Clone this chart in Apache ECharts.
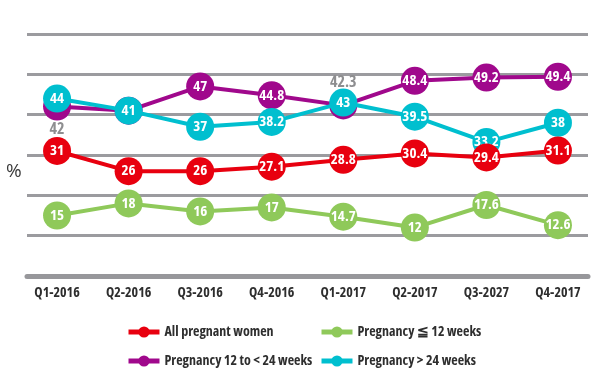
<!DOCTYPE html>
<html><head><meta charset="utf-8">
<script src="https://cdn.jsdelivr.net/npm/echarts@6/dist/echarts.min.js"></script>
<style>html,body{margin:0;padding:0;background:#fff}#c{width:599px;height:377px}</style>
</head><body><div id="c"></div>
<script>
const categories = ['Q1-2016','Q2-2016','Q3-2016','Q4-2016','Q1-2017','Q2-2017','Q3-2027','Q4-2017'];
const allWomen = [31, 26, 26, 27.1, 28.8, 30.4, 29.4, 31.1];
const upTo12 = [15, 18, 16, 17, 14.7, 12, 17.6, 12.6];
const w12to24 = [42, 41, 47, 44.8, 42.3, 48.4, 49.2, 49.4];
const over24 = [44, 41, 37, 38.2, 43, 39.5, 33.2, 38];
const seriesNames = ['All pregnant women','Pregnancy ≦ 12 weeks','Pregnancy 12 to < 24 weeks','Pregnancy > 24 weeks'];
const yTicks = [0, 10, 20, 30, 40, 50, 60];

const FONT = "'Open Sans'";
const STRETCH = 'condensed';
const colors = ['#e8000f','#8fc95a','#a0088c','#00bfcf'];
const outsideLabel = {0:'bottom', 4:'top'};
const catIdx = categories.map((c,i)=>i);

function mkSeries(name, data, color, z, special){
  return {
    name, type:'line', data: data.map((v,i)=>{
      if(special && outsideLabel[i]!==undefined){
        return {value:[i, v], label:{position:outsideLabel[i], color:'#8e8e90', distance:1, fontSize:16}};
      }
      return [i, v];
    }),
    z,
    symbol:'circle', symbolSize:28,
    lineStyle:{color, width:4},
    itemStyle:{color},
    label:{show:true, position:'inside', color:'#fff', fontFamily:FONT, fontStyle:STRETCH, fontWeight:'bold', fontSize:15,
      formatter:p=>String(p.value[1])},
    emphasis:{disabled:true}
  };
}

const chart = echarts.init(document.getElementById('c'));
const legendBase = {itemWidth:31, itemHeight:14, itemGap:6, lineStyle:{width:5}, textStyle:{fontFamily:FONT, fontStyle:STRETCH, fontWeight:'bold', fontSize:14, color:'#2e2e2e'}, selectedMode:false};
chart.setOption({
  animation:false,
  grid:{left:27, right:11, top:34, bottom:101},
  xAxis:{type:'value', min:-0.42, max:catIdx.length-1+0.42,
    axisLine:{onZero:false, lineStyle:{color:'#97979b', width:5}},
    axisTick:{show:false},
    splitLine:{show:false},
    axisLabel:{customValues:catIdx, formatter:v=>categories[Math.round(v)], margin:10, fontFamily:FONT, fontStyle:STRETCH, fontWeight:'bold', fontSize:14, color:'#2e2e2e'}},
  yAxis:{type:'value', min:yTicks[0], max:yTicks[yTicks.length-1], interval:10,
    axisLabel:{show:false}, axisLine:{show:false}, axisTick:{show:false},
    splitLine:{lineStyle:{color:'#9b9b9f', width:3}}},
  graphic:[{type:'text', left:6, top:162, style:{text:'%', fontSize:19, fontFamily:FONT, fill:'#3a3a3a'}}],
  legend:[
    Object.assign({data:[seriesNames[0]], left:121, top:320}, legendBase),
    Object.assign({data:[seriesNames[1]], left:314, top:320}, legendBase),
    Object.assign({data:[seriesNames[2]], left:121, top:349}, legendBase),
    Object.assign({data:[seriesNames[3]], left:314, top:349}, legendBase)
  ],
  series:[
    mkSeries(seriesNames[2], w12to24, colors[2], 2, true),
    mkSeries(seriesNames[3], over24, colors[3], 3, false),
    mkSeries(seriesNames[0], allWomen, colors[0], 4, false),
    mkSeries(seriesNames[1], upTo12, colors[1], 5, false)
  ]
});
</script></body></html>
